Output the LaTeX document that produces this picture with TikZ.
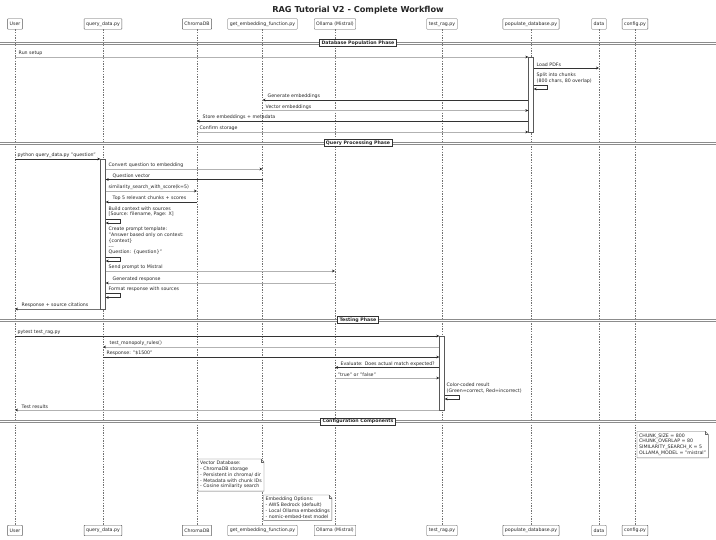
\documentclass[tikz,border=0pt]{standalone}
\usepackage{fontspec}
\setmainfont{DejaVu Sans}
\usetikzlibrary{arrows.meta}
\newcommand\sz{\fontsize{4.7}{5.8}\selectfont}
\newcommand\noteoutline[1]{%
  \draw[black!60, line width=0.4pt] (#1.north west) -- ([xshift=-3pt]#1.north east) -- ([yshift=-3pt]#1.north east) -- (#1.south east) -- (#1.south west) -- cycle;
  \draw[black!60, line width=0.4pt] ([xshift=-3pt]#1.north east) -- ([xshift=-3pt,yshift=-3pt]#1.north east) -- ([yshift=-3pt]#1.north east);}
\begin{document}
\begin{tikzpicture}[x=1pt,y=-1pt,
  every node/.style={font=\sz, text=black!85},
  part/.style={draw=black!65, fill=white, rounded corners=0.6pt, inner xsep=2pt, inner ysep=0pt, minimum height=10.5pt, line width=0.4pt},
  life/.style={draw=black!55, line width=0.35pt, dash pattern=on 1.3pt off 1.3pt},
  act/.style={draw=black!65, fill=white, line width=0.4pt, minimum width=5pt, inner sep=0pt, anchor=north},
  tip/.style={-{Stealth[length=3pt,width=2.8pt,color=black!85]}},
  md/.style={tip, draw=black!80, line width=0.55pt},
  ml/.style={tip, draw=black!30, line width=0.45pt},
  mm/.style={tip, draw=black!55, line width=0.5pt},
  lbl/.style={anchor=south west, inner sep=0.5pt, align=left},
  sepl/.style={draw=black!45, line width=0.45pt},
  seplbl/.style={draw=black!80, fill=white, font=\bfseries\sz, inner xsep=2pt, inner ysep=1.2pt, line width=0.4pt},
  notebox/.style={anchor=north west, align=left, inner sep=2pt, fill=white},
]
\fill[white] (0,0) rectangle (716,540);
\useasboundingbox (0,0) rectangle (716,540);

\node[font=\bfseries\fontsize{8.2}{9}\selectfont] (title) at (358,10) {RAG Tutorial V2 - Complete Workflow};

% participants
\foreach \n/\x/\t in {U/15/User, Q/103/query\_data.py, C/197/ChromaDB, G/262.5/get\_embedding\_function.py, O/335/Ollama (Mistral), T/442/test\_rag.py, P/531/populate\_database.py, D/599/data/, F/635/config.py}{
  \node[part] (p\n) at (\x,24) {\t};
  \node[part] (b\n) at (\x,530.5) {\t};
  \draw[life] (p\n.south) -- (b\n.north);
}

% separators
\draw[sepl] (0,42) -- (716,42) (0,44) -- (716,44);
\node[seplbl] (s1) at (358,43) {Database Population Phase};
\draw[sepl] (0,142) -- (716,142) (0,144) -- (716,144);
\node[seplbl] (s2) at (358,143) {Query Processing Phase};
\draw[sepl] (0,319) -- (716,319) (0,321) -- (716,321);
\node[seplbl] (s3) at (358,320) {Testing Phase};
\draw[sepl] (0,420.5) -- (716,420.5) (0,422.5) -- (716,422.5);
\node[seplbl] (s4) at (358,421.5) {Configuration Components};

% activation bars
\node[act, minimum height=75pt] (aP) at (pP |- 0,57) {};
\node[act, minimum height=150pt] (aQ) at (pQ |- 0,159) {};
\node[act, minimum height=74pt] (aT) at (pT |- 0,336) {};

% --- Database population
\draw[ml] (pU |- 0,57) -- (aP.west |- 0,57);
\node[lbl] at (18,56.5) {Run setup};
\draw[md] (aP.east |- 0,68) -- (pD |- 0,68);
\node[lbl] at (536,67.5) {Load PDFs};
\node[lbl] at (536,84) {Split into chunks\\(800 chars, 80 overlap)};
\draw[md] (aP.east |- 0,85) -- ++(14,0) -- ++(0,4) -- (aP.east |- 0,89);
\draw[md] (aP.west |- 0,100) -- (pG |- 0,100);
\node[lbl] at (267,99.5) {Generate embeddings};
\draw[ml] (pG |- 0,110.5) -- (aP.west |- 0,110.5);
\node[lbl] at (265,110) {Vector embeddings};
\draw[md] (aP.west |- 0,121) -- (pC |- 0,121);
\node[lbl] at (202,120.5) {Store embeddings + metadata};
\draw[ml] (pC |- 0,132) -- (aP.west |- 0,132);
\node[lbl] at (199,131.5) {Confirm storage};

% --- Query processing
\draw[md] (pU |- 0,159) -- (aQ.west |- 0,159);
\node[lbl] at (17,158.5) {python query\_data.py "question"};
\draw[ml] (aQ.east |- 0,169) -- (pG |- 0,169);
\node[lbl] at (108,168.5) {Convert question to embedding};
\draw[md] (pG |- 0,179.5) -- (aQ.east |- 0,179.5);
\node[lbl] at (112,179) {Question vector};
\draw[ml] (aQ.east |- 0,191) -- (pC |- 0,191);
\node[lbl] at (108,190.5) {similarity\_search\_with\_score(k=5)};
\draw[md] (pC |- 0,202) -- (aQ.east |- 0,202);
\node[lbl] at (112,201.5) {Top 5 relevant chunks + scores};
\node[lbl] at (108,217.5) {Build context with sources\\{}[Source: filename, Page: X]};
\draw[md] (aQ.east |- 0,219) -- ++(15,0) -- ++(0,4) -- (aQ.east |- 0,223);
\node[lbl] at (108,255.5) {Create prompt template:\\"Answer based only on context:\\\{context\}\\-{}-{}-\\Question: \{question\}"};
\draw[md] (aQ.east |- 0,257) -- ++(15,0) -- ++(0,4) -- (aQ.east |- 0,261);
\draw[ml] (aQ.east |- 0,271) -- (pO |- 0,271);
\node[lbl] at (108,270.5) {Send prompt to Mistral};
\draw[ml] (pO |- 0,283) -- (aQ.east |- 0,283);
\node[lbl] at (112,282.5) {Generated response};
\node[lbl] at (108,292) {Format response with sources};
\draw[md] (aQ.east |- 0,293.5) -- ++(15,0) -- ++(0,4) -- (aQ.east |- 0,297.5);
\draw[mm] (aQ.west |- 0,309) -- (pU |- 0,309);
\node[lbl] at (21,308.5) {Response + source citations};

% --- Testing
\draw[md] (pU |- 0,336) -- (aT.west |- 0,336);
\node[lbl] at (17,335.5) {pytest test\_rag.py};
\draw[ml] (aT.west |- 0,347) -- (pQ |- 0,347);
\node[lbl] at (109,346.5) {test\_monopoly\_rules()};
\draw[md] (pQ |- 0,357) -- (aT.west |- 0,357);
\node[lbl] at (106,356.5) {Response: "\$1500"};
\draw[md] (aT.west |- 0,367.5) -- (pO |- 0,367.5);
\node[lbl] at (340,367) {Evaluate: Does actual match expected?};
\draw[ml] (pO |- 0,378) -- (aT.west |- 0,378);
\node[lbl] at (337,377.5) {"true" or "false"};
\node[lbl] at (446,393.5) {Color-coded result\\(Green=correct, Red=incorrect)};
\draw[md] (aT.east |- 0,395) -- ++(15,0) -- ++(0,4) -- (aT.east |- 0,399);
\draw[ml] (aT.west |- 0,410) -- (pU |- 0,410);
\node[lbl] at (21,409.5) {Test results};

% --- notes
\node[notebox] (nF) at (637,431.5) {CHUNK\_SIZE = 800\\CHUNK\_OVERLAP = 80\\SIMILARITY\_SEARCH\_K = 5\\OLLAMA\_MODEL = "mistral"};
\noteoutline{nF}
\node[notebox] (nV) at (198,459) {Vector Database:\\- ChromaDB storage\\- Persistent in chroma/ dir\\- Metadata with chunk IDs\\- Cosine similarity search};
\noteoutline{nV}
\node[notebox] (nE) at (263.5,495) {Embedding Options:\\- AWS Bedrock (default)\\- Local Ollama embeddings\\- nomic-embed-text model};
\noteoutline{nE}
\end{tikzpicture}
\end{document}
